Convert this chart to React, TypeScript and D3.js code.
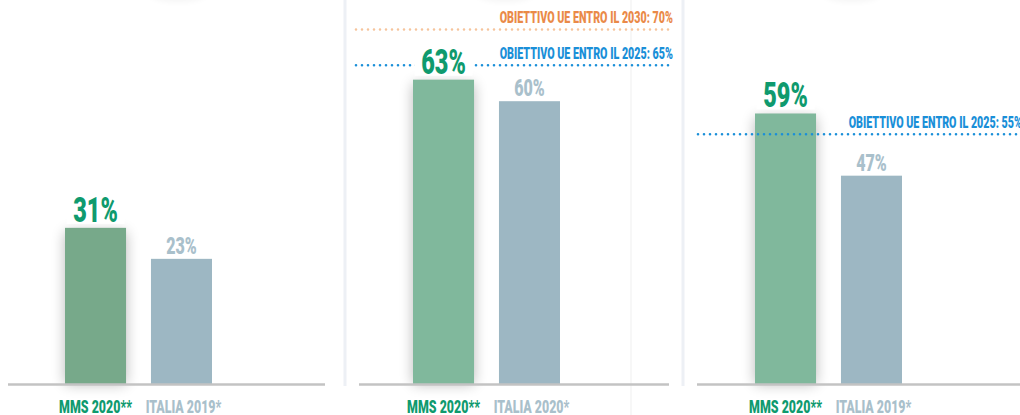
import React from "react";
import * as d3 from "d3";

// ---- data ----
const panelIds = ["p1", "p2", "p3"];
const mmsLabels = ["MMS 2020**", "MMS 2020**", "MMS 2020**"];
const italiaLabels = ["ITALIA 2019*", "ITALIA 2020*", "ITALIA 2019*"];
const mmsValues = [31, 63, 59];
const italiaValues = [23, 60, 47];
const targetPanel = [1, 1, 2];
const targetValues = [70, 65, 55];
const targetLabels = [
  "OBIETTIVO UE ENTRO IL 2030: 70%",
  "OBIETTIVO UE ENTRO IL 2025: 65%",
  "OBIETTIVO UE ENTRO IL 2025: 55%",
];
const targetKinds = ["2030", "2025", "2025"];
// value domain shown by each panel (baseline -> top of picture)
const panelDomains: [number, number][] = [
  [-9.3, 89.8],
  [20.6, 74.1],
  [6.8, 80.9],
];

// ---- layout / style ----
const W = 1020;
const H = 415;
const BASE_Y = 384;
const FONT = "Roboto, 'DejaVu Sans Condensed', sans-serif";
const SX = 0.67;
const LAYOUT = [
  { divider: null as number | null, axis: [8, 325], bars: [65, 212], line: [8, 325], glow: 178, mmsColor: "#77a98a" },
  { divider: 345, axis: [359, 669], bars: [413, 560], line: [356, 674], glow: 505, mmsColor: "#80b89c" },
  { divider: 683, axis: [697, 1022], bars: [755, 902], line: [698, 1023], glow: 852, mmsColor: "#80b89c" },
];
const GREY_BAR = "#9db7c3";
const GREEN_TXT = "#0f9a6e";
const GREY_TXT = "#a9c0cb";
const KIND_STYLE: Record<string, { text: string; dots: string }> = {
  "2030": { text: "#ea8a48", dots: "#f6c49c" },
  "2025": { text: "#1a8fd8", dots: "#1a8fd8" },
};

function CText(props: {
  x: number;
  y: number;
  size: number;
  fill: string;
  anchor?: "start" | "middle" | "end";
  children: React.ReactNode;
}) {
  const { x, y, size, fill, anchor = "middle", children } = props;
  return (
    <text
      transform={`translate(${x},${y}) scale(${SX},1)`}
      textAnchor={anchor}
      fontFamily={FONT}
      fontWeight={900}
      fontSize={size}
      fill={fill}
    >
      {children}
    </text>
  );
}

export default function App() {
  const panels = panelIds.map((id, i) => {
    const lay = LAYOUT[i];
    const y = d3.scaleLinear().domain(panelDomains[i]).range([BASE_Y, 0]);
    const cats = [mmsLabels[i], italiaLabels[i]];
    const x = d3
      .scaleBand<string>()
      .domain(["mms", "italia"])
      .range(lay.bars as [number, number])
      .paddingInner(0.29)
      .paddingOuter(0);
    const targets = targetValues
      .map((v, k) => ({ v, label: targetLabels[k], kind: targetKinds[k], p: targetPanel[k] }))
      .filter((t) => t.p === i);
    return { id, i, lay, y, x, cats, targets };
  });

  return (
    <svg
      width={W}
      height={H}
      viewBox={`0 0 ${W} ${H}`}
      style={{ position: "absolute", left: 0, top: 0, background: "#fff" }}
    >
      <defs>
        <filter id="shadow" x="-60%" y="-20%" width="220%" height="140%">
          <feGaussianBlur stdDeviation="7" />
        </filter>
        <filter id="glow" x="-50%" y="-100%" width="200%" height="300%">
          <feGaussianBlur stdDeviation="3" />
        </filter>
      </defs>
      <rect x={0} y={0} width={W} height={H} fill="#fff" />

      {/* faint artefacts from above the frame */}
      {panels.map((p) => (
        <ellipse
          key={"g" + p.id}
          cx={p.lay.glow}
          cy={-6}
          rx={28}
          ry={8}
          fill="#000"
          opacity={0.04}
          filter="url(#glow)"
        />
      ))}
      <line x1={631} x2={631} y1={0} y2={H} stroke="#efefef" strokeWidth={1} />

      {/* dividers */}
      {panels.map((p) =>
        p.lay.divider != null ? (
          <line
            key={"d" + p.id}
            x1={p.lay.divider}
            x2={p.lay.divider}
            y1={0}
            y2={386}
            stroke="#edf0f5"
            strokeWidth={3}
          />
        ) : null
      )}

      {panels.map((p) => {
        const mv = mmsValues[p.i];
        const iv = italiaValues[p.i];
        const bw = p.x.bandwidth();
        const xm = p.x("mms")!;
        const xi = p.x("italia")!;
        return (
          <g key={p.id}>
            {/* shadow behind green bar */}
            <rect
              x={xm}
              y={p.y(mv) + 4}
              width={bw}
              height={BASE_Y - p.y(mv) - 4}
              fill="#000"
              opacity={0.28}
              filter="url(#shadow)"
            />
            <rect x={xm} y={p.y(mv)} width={bw} height={BASE_Y - p.y(mv)} fill={p.lay.mmsColor} />
            <rect x={xi} y={p.y(iv)} width={bw} height={BASE_Y - p.y(iv)} fill={GREY_BAR} />
            {/* axis baseline */}
            <line
              x1={p.lay.axis[0]}
              x2={p.lay.axis[1]}
              y1={BASE_Y + 0.5}
              y2={BASE_Y + 0.5}
              stroke="#c3c3c3"
              strokeWidth={2.5}
            />
            {/* targets */}
            {p.targets.map((t) => (
              <g key={t.label}>
                <line
                  x1={p.lay.line[0]}
                  x2={p.lay.line[1]}
                  y1={p.y(t.v)}
                  y2={p.y(t.v)}
                  stroke={KIND_STYLE[t.kind].dots}
                  strokeWidth={2.6}
                  strokeLinecap="round"
                  strokeDasharray="0 6"
                />
                <CText
                  x={p.lay.line[1] - 1}
                  y={p.y(t.v) - 6}
                  size={16}
                  fill={KIND_STYLE[t.kind].text}
                  anchor="end"
                >
                  {t.label}
                </CText>
              </g>
            ))}
            {/* value labels */}
            <rect x={xm + bw / 2 - 29} y={p.y(mv) - 34} width={58} height={30} fill="#fff" />
            <CText x={xm + bw / 2} y={p.y(mv) - 6} size={35} fill={GREEN_TXT}>
              {mv}%
            </CText>
            <CText x={xi + bw / 2} y={p.y(iv) - 5} size={24} fill={GREY_TXT}>
              {iv}%
            </CText>
            {/* category labels */}
            <CText x={xm + bw / 2} y={413} size={18.5} fill={GREEN_TXT}>
              {p.cats[0]}
            </CText>
            <CText x={xi + bw / 2 + 2} y={413} size={18.5} fill={GREY_TXT}>
              {p.cats[1]}
            </CText>
          </g>
        );
      })}
    </svg>
  );
}
